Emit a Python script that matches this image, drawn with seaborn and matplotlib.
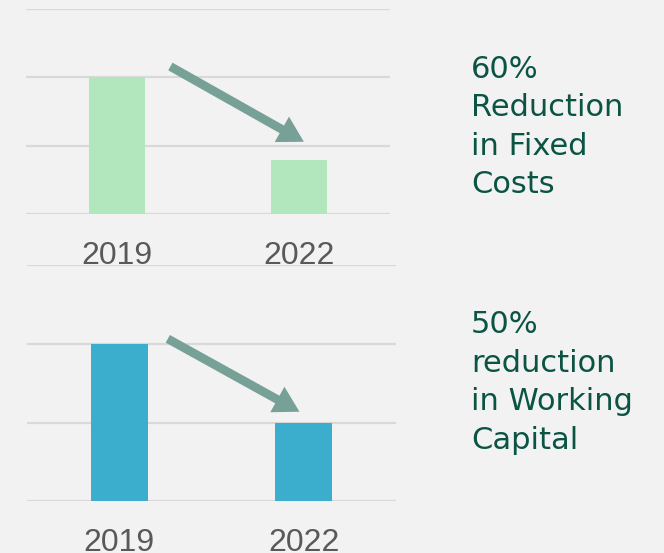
import matplotlib
matplotlib.use("Agg")
import matplotlib.pyplot as plt
import seaborn as sns
import pandas as pd

years = ["2019", "2022"]
fixed_costs = [2.0, 0.8]
working_capital = [2.0, 1.0]
labels = ["60%\nReduction\nin Fixed\nCosts", "50%\nreduction\nin Working\nCapital"]

BG = "#f2f2f2"
GRID = "#d9d9d9"
sns.set_theme(style="white")
plt.rcParams["font.family"] = ["Liberation Sans", "DejaVu Sans"]

fig = plt.figure(figsize=(6.64, 5.53), dpi=100, facecolor=BG)

ax1 = fig.add_axes([26/664, 1-214.3/553, 364/664, (214.3-9)/553])
ax2 = fig.add_axes([27/664, 1-501.3/553, 369/664, (501.3-265)/553])

def panel(ax, vals, color):
    df = pd.DataFrame({"year": years, "value": vals})
    sns.barplot(data=df, x="year", y="value", color=color, width=0.31,
                saturation=1, ax=ax, zorder=2, linewidth=0, edgecolor="none")
    ax.set_facecolor(BG)
    ax.set_ylim(0, 3)
    ax.set_xlim(-0.5, 1.5)
    ax.set_yticks([0, 1, 2, 3])
    ax.set_yticklabels([])
    ax.yaxis.grid(True, color=GRID, linewidth=1.6, zorder=0)
    ax.set_axisbelow(True)
    for s in ax.spines.values():
        s.set_visible(False)
    ax.set_xlabel("")
    ax.set_ylabel("")
    ax.set_xticks([0, 1])
    ax.set_xticklabels(years, fontfamily="Liberation Sans", fontsize=23,
                       color="#595959")
    ax.tick_params(axis="x", length=0, pad=19)
    ax.tick_params(axis="y", length=0)

panel(ax1, fixed_costs, "#b2e6bd")
panel(ax2, working_capital, "#3aaecc")

arrow_color = "#77a197"
astyle = "simple,head_width=1.5,head_length=1.3,tail_width=0.45"
ax1.annotate("", xy=(1.04, 1.04), xytext=(0.28, 2.18),
             arrowprops=dict(arrowstyle=astyle, mutation_scale=14,
                             color=arrow_color, lw=0), zorder=3)
ax2.annotate("", xy=(0.99, 1.12), xytext=(0.25, 2.08),
             arrowprops=dict(arrowstyle=astyle, mutation_scale=14,
                             color=arrow_color, lw=0), zorder=3)

txt_color = "#0b5443"
fig.text(471/664, 1-55/553, labels[0], ha="left", va="top", fontsize=22,
         color=txt_color, family=["DejaVu Sans"], linespacing=1.41)
fig.text(471/664, 1-310/553, labels[1], ha="left", va="top", fontsize=22,
         color=txt_color, family=["DejaVu Sans"], linespacing=1.42)

fig.savefig("out.png", dpi=100, facecolor=BG)
